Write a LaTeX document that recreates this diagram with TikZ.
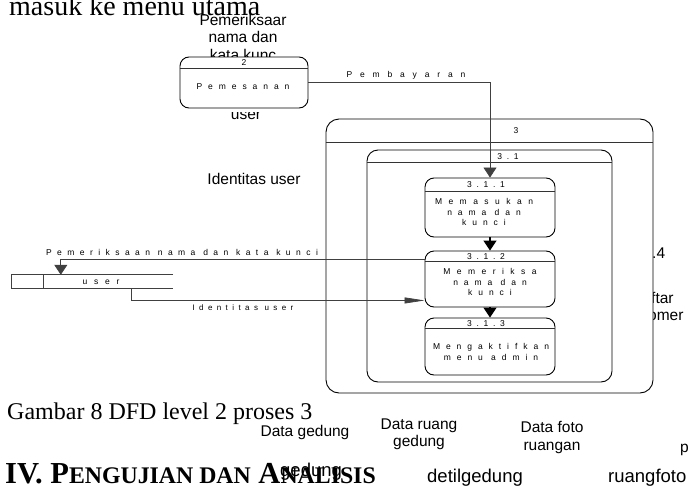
\documentclass[tikz,border=0pt]{standalone}
\usepackage{fontspec}
\setmainfont{Liberation Serif}
\newfontfamily\arial{Liberation Sans}
\newfontfamily\spc[LetterSpace=70]{Liberation Sans}
\usetikzlibrary{arrows.meta}

\newcommand\lsp[2]{{\addfontfeature{LetterSpace=#1}#2}}

\tikzset{
  proc/.style={draw=black, line width=0.9pt, fill=white, rounded corners=9pt, inner sep=0pt},
  divider/.style={draw=black!80, line width=0.7pt},
  lbl/.style={inner sep=0pt, font=\arial\fontsize{15.5}{17.5}\selectfont, align=center},
  biglbl/.style={inner sep=0pt, font=\arial\fontsize{18.5}{21}\selectfont},
  tiny/.style={inner sep=0pt, font=\spc\fontsize{8.5}{10.5}\selectfont, align=center},
  flow/.style={draw=black!75, line width=0.7pt},
  arrowline/.style={draw=black, line width=1.2pt},
  storeline/.style={draw=black!75, line width=0.9pt},
  bigtip/.style={-{Triangle[width=13pt,length=10pt]}},
  thintip/.style={-{Triangle[width=6pt,length=20pt]}},
}

\begin{document}
\begin{tikzpicture}[x=1pt,y=-1pt]
\useasboundingbox (0,0) rectangle (692,487);
\clip (0,0) rectangle (692,487);
\fill[white] (0,0) rectangle (692,487);

% running text of the page
\node[anchor=base west, inner sep=0pt, font=\fontsize{28}{30}\selectfont] (body) at (9,15.5) {masuk ke menu utama};
\node[anchor=base west, inner sep=0pt, font=\fontsize{24}{26}\selectfont] (caption) at (7,419) {Gambar 8 DFD level 2 proses 3};
\node[anchor=base west, inner sep=0pt, font=\bfseries\fontsize{30.5}{32}\selectfont] (section) at (5,483)
  {IV. P{\fontsize{23.8}{25}\selectfont ENGUJIAN DAN} A{\fontsize{23.8}{25}\selectfont NALISIS}};

% loose labels lying under the process boxes
\node[lbl] (cek) at (243,37) {Pemeriksaar\\nama dan\\kata kunc};
\begin{scope}
  \clip (200,112) rectangle (300,130);
  \node[lbl, anchor=base] (usr) at (246,119.5) {user};
\end{scope}
\node[lbl] (idu) at (254,178.5) {Identitas user};
\node[lbl, anchor=base west] (n34) at (652,258) {.4};
\node[lbl, anchor=base west] (dft) at (651,303) {ftar};
\node[lbl, anchor=base west] (cst) at (648,320) {omer};

% lower labels
\node[lbl] (dg) at (305,432) {Data gedung};
\node[lbl] (drg) at (419,434.5) {Data ruang\\gedung};
\node[lbl] (dfr) at (552,437.5) {Data foto\\ruangan};
\node[lbl, anchor=base west] (pp) at (680,452) {p};
\node[biglbl, anchor=base west] (gd) at (280,476) {gedung};
\node[biglbl, anchor=base west] (dtg) at (427,482) {detilgedung};
\node[biglbl, anchor=base west] (rgf) at (608,482) {ruangfoto};

% process 2
\node[proc, minimum width=128pt, minimum height=51pt] (p2) at (244,82.5) {};
\draw[divider] ([yshift=-12pt]p2.north west) -- ([yshift=-12pt]p2.north east);
\node[tiny] (p2n) at (244,63) {2};
\node[tiny] (p2t) at (243,87) {Pemesanan};

% process 3 and its refinement
\node[proc, rounded corners=13pt, minimum width=327pt, minimum height=274pt] (p3) at (489.5,256) {};
\draw[divider] ([yshift=-24pt]p3.north west) -- ([yshift=-24pt]p3.north east);
\node[tiny] (p3n) at (516,131) {3};

\node[proc, rounded corners=11pt, minimum width=245pt, minimum height=232pt] (p31) at (489.5,266) {};
\draw[divider] ([yshift=-13pt]p31.north west) -- ([yshift=-13pt]p31.north east);
\node[tiny] (p31n) at (508,157) {\lsp{55}{3.1}};

\node[proc, minimum width=130pt, minimum height=59pt] (p311) at (490,207.5) {};
\draw[divider] ([yshift=-14pt]p311.north west) -- ([yshift=-14pt]p311.north east);
\node[tiny] (p311n) at (486,185) {\lsp{55}{3.1.1}};
\node[tiny] (p311t) at (484,212) {\lsp{76}{Memasukan}\\nama dan\\kunci};

\node[proc, minimum width=130pt, minimum height=56pt] (p312) at (490,279) {};
\draw[divider] ([yshift=-11pt]p312.north west) -- ([yshift=-11pt]p312.north east);
\node[tiny] (p312n) at (486,256.5) {\lsp{55}{3.1.2}};
\node[tiny] (p312t) at (490,282) {\lsp{76}{Memeriksa}\\nama dan\\kunci};

\node[proc, minimum width=130pt, minimum height=57pt] (p313) at (490,346.5) {};
\draw[divider] ([yshift=-11pt]p313.north west) -- ([yshift=-11pt]p313.north east);
\node[tiny] (p313n) at (486,323.5) {\lsp{55}{3.1.3}};
\node[tiny] (p313t) at (491,352) {Mengaktifkan\\menu admin};

% data store user
\node[minimum width=161pt, minimum height=13pt, inner sep=0pt] (st) at (92.5,281.5) {};
\draw[storeline] (st.north east) -- (st.north west) -- (st.south west) -- (st.south east);
\draw[storeline] ([xshift=32pt]st.north west) -- ([xshift=32pt]st.south west);
\node[tiny] (stt) at (101,282) {\lsp{80}{user}};

% data flows
\draw[flow, bigtip] (p2.east) -| (p311.north);
\node[tiny] (fbay) at (406,75) {\lsp{92}{Pembayaran}};
\draw[flow, bigtip] ([yshift=-9pt]p312.north west) -| ([xshift=49pt]st.north west);
\node[tiny] (fcek) at (182,252) {\lsp{64}{Pemeriksaan nama dan kata kunci}};
\draw[flow, thintip] ([xshift=120pt]st.south west) |- ([yshift=7pt]p312.south west);
\node[tiny, font=\spc\fontsize{8}{10}\selectfont] (fidu) at (243,308) {\lsp{55}{Identitas user}};
\draw[arrowline, bigtip] (p311.south) -- (p312.north);
\draw[arrowline, bigtip] (p312.south) -- (p313.north);
\end{tikzpicture}
\end{document}
